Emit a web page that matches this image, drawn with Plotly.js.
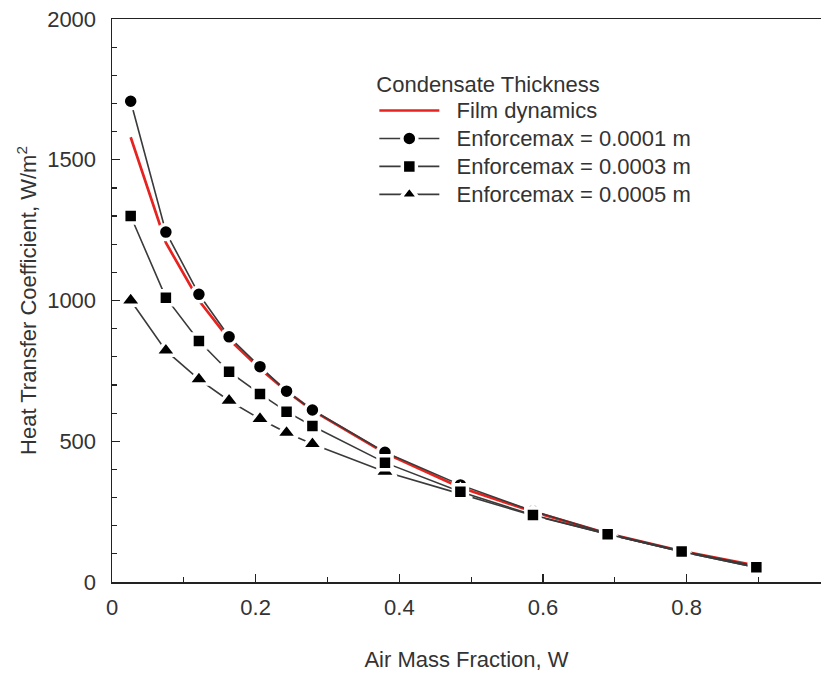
<!DOCTYPE html>
<html>
<head>
<meta charset="utf-8">
<script src="https://cdn.plot.ly/plotly-3.0.1.min.js"></script>
<style>html,body{margin:0;padding:0;background:#fff;}#chart{width:821px;height:673px;}</style>
</head>
<body>
<div id="chart"></div>
<script>
// Air mass fraction W (x positions)
const airMassFraction = [0.026, 0.075, 0.121, 0.163, 0.206, 0.243, 0.279, 0.380, 0.485, 0.586, 0.690, 0.793, 0.897];
// Heat transfer coefficient, W/m^2
const filmDynamics   = [1580, 1205, 1000, 862, 758, 678, 610, 458, 336, 250, 172, 110, 58];
const enforce0001    = [1708, 1243, 1022, 871, 765, 678, 611, 461, 345, 252, 172, 110, 57];
const enforce0003    = [1300, 1010, 856, 747, 668, 605, 554, 424, 321, 238, 170, 108, 52];
const enforce0005    = [1000, 822, 720, 644, 579, 530, 490, 392, 313, 236, 170, 108, 52];
const seriesNames = ["Film dynamics", "Enforcemax = 0.0001 m", "Enforcemax = 0.0003 m", "Enforcemax = 0.0005 m"];
const legendTitle = "Condensate Thickness";
const xTitle = "Air Mass Fraction, W";
const yTitle = "Heat Transfer Coefficient, W/m<sup>2</sup>";

const FONT = "Arial, 'Liberation Sans', Helvetica, sans-serif";
const lineCol = "#3a3a3a";
const NB = "\u00a0\u00a0";

function legendLabel(name) {
  return '<span style="font-size:22px">' + NB + name + '</span>';
}

function markerTrace(y, name, symbol, size, rank) {
  return {
    x: airMassFraction, y: y, name: legendLabel(name), type: "scatter", mode: "lines+markers",
    legendrank: rank,
    line: {color: lineCol, width: 1.6},
    marker: {symbol: symbol, size: size, color: "#000", line: {color: "#fff", width: 3.5}}
  };
}

const traces = [
  {x: airMassFraction, y: filmDynamics, name: legendLabel(seriesNames[0]), type: "scatter", mode: "lines",
   legendrank: 1, line: {color: "#e8231f", width: 2.7}},
  markerTrace(enforce0001, seriesNames[1], "circle", 15, 2),
  markerTrace(enforce0005, seriesNames[3], "triangle-up", 19, 4),
  markerTrace(enforce0003, seriesNames[2], "square", 14, 3)
];

const axisCommon = {
  showgrid: false, zeroline: false, showline: true, linecolor: "#222", linewidth: 1.5,
  ticks: "inside", tickcolor: "#222", tickwidth: 1.3, ticklen: 8,
  tickfont: {family: FONT, size: 22, color: "#333"},
  automargin: false
};

const layout = {
  width: 821, height: 673,
  margin: {l: 112, r: 0, t: 19, b: 91},
  paper_bgcolor: "#fff", plot_bgcolor: "#fff",
  font: {family: FONT, size: 22, color: "#333"},
  showlegend: true,
  legend: {
    x: 0.37, y: 0.922, xanchor: "left", yanchor: "top",
    bgcolor: "rgba(0,0,0,0)", borderwidth: 0,
    font: {family: FONT, size: 19.2, color: "#333"},
    title: {text: legendTitle, font: {family: FONT, size: 22, color: "#333"}},
    itemwidth: 60, traceorder: "normal"
  },
  xaxis: Object.assign({}, axisCommon, {
    range: [0, 0.987], dtick: 0.2, tick0: 0, mirror: true,
    minor: {dtick: 0.1, ticks: "inside", ticklen: 5, tickcolor: "#222", tickwidth: 1.2, showgrid: false},
    ticklabelstandoff: 5,
    title: {text: xTitle, font: {family: FONT, size: 22, color: "#333"}, standoff: 32}
  }),
  yaxis: Object.assign({}, axisCommon, {
    range: [0, 2000], dtick: 500, tick0: 0, mirror: false,
    minor: {dtick: 100, ticks: "inside", ticklen: 5, tickcolor: "#222", tickwidth: 1.2, showgrid: false},
    ticklabelstandoff: 10,
    title: {text: yTitle, font: {family: FONT, size: 22, color: "#333"}, standoff: 4}
  })
};

Plotly.newPlot("chart", traces, layout, {displayModeBar: false, staticPlot: true});
</script>
</body>
</html>
